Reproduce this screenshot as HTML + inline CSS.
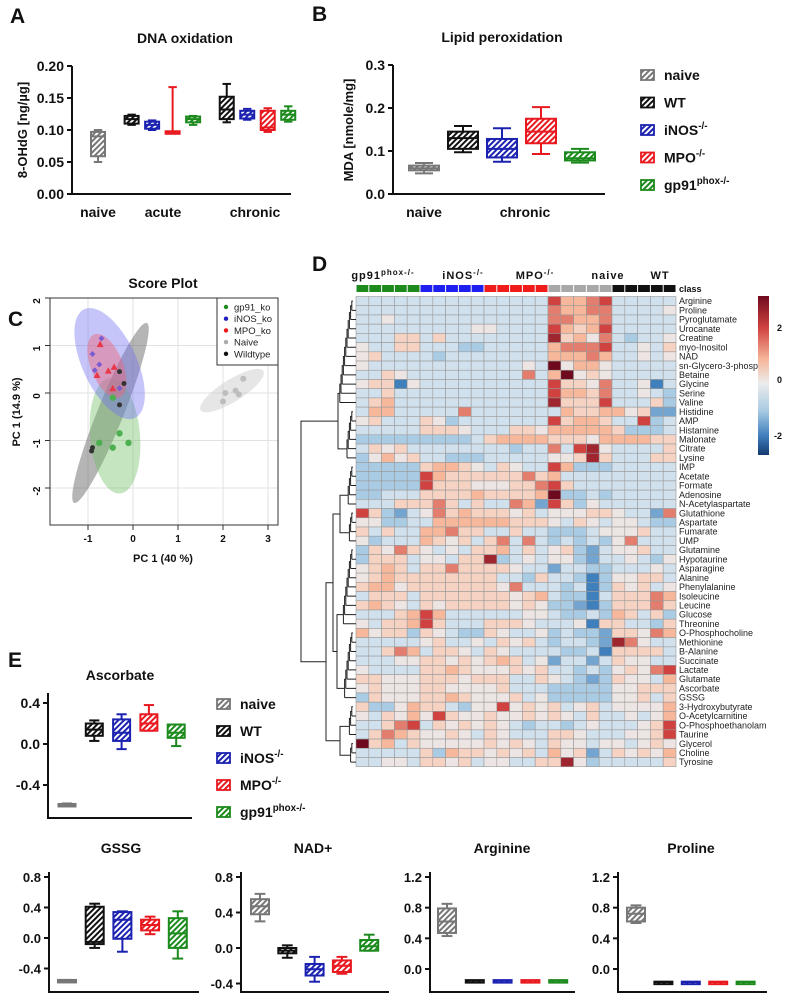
<!DOCTYPE html>
<html><head><meta charset="utf-8">
<style>
html,body{margin:0;padding:0;background:#fff;}
svg{display:block;font-family:"Liberation Sans",Arial,sans-serif;}
</style></head>
<body>
<svg id="fig" width="787" height="1000" viewBox="0 0 787 1000">
<defs>
<pattern id="h0" width="4" height="4" patternUnits="userSpaceOnUse" patternTransform="rotate(45)"><rect width="4" height="4" fill="#fff"/><rect width="2" height="4" fill="#777"/></pattern>
<pattern id="h1" width="4" height="4" patternUnits="userSpaceOnUse" patternTransform="rotate(45)"><rect width="4" height="4" fill="#fff"/><rect width="2" height="4" fill="#111"/></pattern>
<pattern id="h2" width="4" height="4" patternUnits="userSpaceOnUse" patternTransform="rotate(45)"><rect width="4" height="4" fill="#fff"/><rect width="2" height="4" fill="#1c22b0"/></pattern>
<pattern id="h3" width="4" height="4" patternUnits="userSpaceOnUse" patternTransform="rotate(45)"><rect width="4" height="4" fill="#fff"/><rect width="2" height="4" fill="#e8191f"/></pattern>
<pattern id="h4" width="4" height="4" patternUnits="userSpaceOnUse" patternTransform="rotate(45)"><rect width="4" height="4" fill="#fff"/><rect width="2" height="4" fill="#1c8a1c"/></pattern>
<linearGradient id="cbar" x1="0" y1="0" x2="0" y2="1">
<stop offset="0" stop-color="#6e0a1e"/><stop offset="0.2" stop-color="#d0423f"/><stop offset="0.4" stop-color="#f6b79b"/><stop offset="0.55" stop-color="#ececec"/><stop offset="0.72" stop-color="#a9cbe3"/><stop offset="0.88" stop-color="#3f7fbc"/><stop offset="1" stop-color="#133a70"/>
</linearGradient>
</defs>
<g id="root"></g>
</svg>
<script>
// ---------- DATA ----------
const colors = ['#777777','#111111','#1c22b0','#e8191f','#1c8a1c'];
// Panel A: DNA oxidation
const aColorIdx = [0,1,2,3,4,1,2,3,4];
const aGroupIdx = [0,1,1,1,1,2,2,2,2];
const aCategories = ['naive','acute','chronic'];
const aMin = [0.050,0.108,0.100,0.095,0.108,0.112,0.116,0.097,0.113];
const aQ1  = [0.059,0.110,0.102,0.095,0.112,0.117,0.118,0.100,0.116];
const aMed = [0.090,0.117,0.108,0.097,0.117,0.132,0.124,0.104,0.124];
const aQ3  = [0.097,0.122,0.113,0.098,0.121,0.152,0.130,0.130,0.130];
const aMax = [0.100,0.124,0.115,0.167,0.122,0.172,0.133,0.134,0.137];
const aTicks = [0,0.05,0.10,0.15,0.20];
// Panel B: Lipid peroxidation
const bColorIdx = [0,1,2,3,4];
const bMin = [0.048,0.097,0.075,0.093,0.073];
const bQ1  = [0.055,0.105,0.085,0.118,0.078];
const bMed = [0.060,0.130,0.105,0.145,0.083];
const bQ3  = [0.066,0.145,0.128,0.175,0.097];
const bMax = [0.072,0.158,0.153,0.202,0.105];
const bTicks = [0,0.1,0.2,0.3];
// Panel C: score plot
const cX_gp91 = [-0.45,-0.30,-0.75,-0.45,-0.10];
const cY_gp91 = [-0.10,-0.85,-1.05,-1.15,-1.05];
const cX_inos = [-0.70,-0.90,-0.75,-0.85,-0.30];
const cY_inos = [1.15,0.82,0.60,0.48,0.10];
const cX_mpo = [-0.73,-0.80,-0.55,-0.42,-0.45];
const cY_mpo = [1.03,0.38,0.47,0.55,0.10];
const cX_naive = [2.45,2.05,2.28,2.35,2.00];
const cY_naive = [0.30,0.00,0.05,-0.03,-0.18];
const cX_wt = [-0.30,-0.20,-0.30,-0.90,-0.92];
const cY_wt = [0.45,0.20,-0.25,-1.15,-1.22];
const cXTicks = [-1,0,1,2,3];
const cYTicks = [-2,-1,0,1,2];
// Panel D heatmap
const dGroups = ['gp91','iNOS','MPO','naive','WT'];
const dRows = ['Arginine','Proline','Pyroglutamate','Urocanate','Creatine','myo-Inositol','NAD','sn-Glycero-3-phosp','Betaine','Glycine','Serine','Valine','Histidine','AMP','Histamine','Malonate','Citrate','Lysine','IMP','Acetate','Formate','Adenosine','N-Acetylaspartate','Glutathione','Aspartate','Fumarate','UMP','Glutamine','Hypotaurine','Asparagine','Alanine','Phenylalanine','Isoleucine','Leucine','Glucose','Threonine','O-Phosphocholine','Methionine','B-Alanine','Succinate','Lactate','Glutamate','Ascorbate','GSSG','3-Hydroxybutyrate','O-Acetylcarnitine','O-Phosphoethanolam','Taurine','Glycerol','Choline','Tyrosine'];
// codes a..l -> -2.5 .. 3 in steps of 0.5
const dValues = [
"eeeee eeeee eeeee jhhij eeeee","eeeee eeeee eeeee ihhii eeeef","eefee eeeee eeeee iihhi eeeee","eeeee eeeef feeee jhghj eeeee",
"eeegg egeee eeeee kghfi edeef","feegg eeedd eeeee hiiij eefeg","fgeee edeee eeeee hhhih eefef","feeee eeeee eeefe lfhhf eeeee",
"eegfe eeeee eeeie hlfgf eeeee","fggbf eeeee eeeee jggfi eefbe","eegee eeeee eeeee jhhgi eefed","eghee eeeee eeeee kgggj eeegd",
"ehhee eeeie eeeee ehggh hfgcc","fgeee gfdee eeeee jghhg eejde","eeeee gggfe eeggf hhhhh gddde","ddddd dddde ghhhh gggfh hhhgg",
"egfge eeeee eedee iejkf eeeeg","dfhfg eeddd eeeee ffgkg eeegg","ddddd ghhgf egfee jhddd eeeee","ddddd jhggg gggig heeee eeeee",
"ddddd jgggf ffggi jgeee eeeee","ddeee ggggh ggggh ldded eeeee","eeegg gigeg eeihc jgdfe eeeee","jgdce fighg ggfge fffgg feeci",
"ffdde ehhhh hhggg fegfe ffedd","gegee hhigg eegee dddef ffgee","fdeee hgfge gieie deded fieee","dgfig fefeg ghege fgdce ffgee",
"dggge ffegg kdefe ffdce efedf","fghge ggigg ggfee ceedd eeefe","fghgg ggggg geedg eedbd ffgge","ghhfg ggggg gfiee edebd gfgef",
"eggge ggggg ggfgh eddbe gggih","ghgfe gfggg ggfgf ddcbd gggig","eeegh jheee eeeff edded hgegd","feggh jgeee gggfe eefbg geedg",
"hfggd gfedd gfeef deddc ggfih","eeeee fgeef egfge deedc kifee","eegih eggfe gfeee eddeb gggge","eeeff ggfgf ghgef ceece gffee",
"feeee gghgf ffgfg eeded fgfij","ggfff gggfg ggeeg fedcd gffeh","fgfff ggfff fgeee ddddd ffggg","dgfff gghgf ffgef ddddd ffgeg",
"gddfh ggedf fjfgf gefge ffffh","fegfh fjgff gffgf gfege efefh","eegij egfgf gfede edefe eefgj","egihg ffgfe gfeee ggfee effgj",
"lgheg fffff gfgfe gffef fefgf","eeeee gdhgg fgfge hfgce gfgfh","eeffe ggfge ffeeg gkfde eeeeg"];
// Panel E: Ascorbate
const eMin = [-0.600,0.03,-0.05,0.13,-0.02];
const eQ1  = [-0.595,0.08,0.03,0.13,0.06];
const eMed = [-0.590,0.14,0.11,0.20,0.11];
const eQ3  = [-0.585,0.20,0.24,0.29,0.19];
const eMax = [-0.580,0.23,0.29,0.38,0.19];
const eTicks = [-0.4,0.0,0.4];
// Bottom row
const gMin = [-0.57,-0.13,-0.18,0.05,-0.27];
const gQ1  = [-0.57,-0.08,-0.01,0.10,-0.13];
const gMed = [-0.56,-0.05,0.24,0.17,0.06];
const gQ3  = [-0.55,0.41,0.34,0.24,0.26];
const gMax = [-0.55,0.45,0.35,0.28,0.35];
const gTicks = [-0.4,0.0,0.4,0.8];
const nMin = [0.30,-0.11,-0.38,-0.29,-0.03];
const nQ1  = [0.38,-0.06,-0.31,-0.27,-0.03];
const nMed = [0.47,-0.03,-0.24,-0.20,0.02];
const nQ3  = [0.55,0.00,-0.18,-0.14,0.09];
const nMax = [0.61,0.03,-0.10,-0.10,0.15];
const nTicks = [-0.4,0.0,0.4,0.8];
const rMin = [0.43,-0.15,-0.15,-0.15,-0.15];
const rQ1  = [0.47,-0.155,-0.155,-0.155,-0.155];
const rMed = [0.62,-0.15,-0.15,-0.15,-0.15];
const rQ3  = [0.79,-0.145,-0.145,-0.145,-0.145];
const rMax = [0.85,-0.15,-0.15,-0.15,-0.15];
const rTicks = [0.0,0.4,0.8,1.2];
const pMin = [0.60,-0.17,-0.17,-0.17,-0.17];
const pQ1  = [0.62,-0.175,-0.175,-0.175,-0.175];
const pMed = [0.72,-0.17,-0.17,-0.17,-0.17];
const pQ3  = [0.80,-0.165,-0.165,-0.165,-0.165];
const pMax = [0.83,-0.17,-0.17,-0.17,-0.17];
const pTicks = [0.0,0.4,0.8,1.2];

// ---------- HELPERS ----------
const NS='http://www.w3.org/2000/svg';
const root=document.getElementById('root');
function mk(tag,attrs,parent,text){const e=document.createElementNS(NS,tag);for(const k in attrs)e.setAttribute(k,attrs[k]);if(text!==undefined)e.textContent=text;(parent||root).appendChild(e);return e;}
function lin(d0,d1,r0,r1){return v=>r0+(v-d0)*(r1-r0)/(d1-d0);}
function grp(name){const g=mk('g',{});


return g;}
function txt(g,x,y,s,size,opts){opts=opts||{};const t=mk('text',{x:x,y:y,'font-size':size,'text-anchor':opts.anchor||'middle','font-weight':opts.bold===false?'normal':'bold',fill:opts.fill||'#111'},g,s);if(opts.rot)t.setAttribute('transform','rotate('+opts.rot+' '+x+' '+y+')');return t;}
function box(g,cx,w,ys,mn,q1,md,q3,mx,ci,lw){
  const c=colors[ci];lw=lw||2;
  const bg=mk('g',{},g);
  
  
  mk('line',{x1:cx,x2:cx,y1:ys(mx),y2:ys(q3),stroke:c,'stroke-width':lw},bg);
  mk('line',{x1:cx,x2:cx,y1:ys(q1),y2:ys(mn),stroke:c,'stroke-width':lw},bg);
  mk('line',{x1:cx-w*0.3,x2:cx+w*0.3,y1:ys(mx),y2:ys(mx),stroke:c,'stroke-width':lw},bg);
  mk('line',{x1:cx-w*0.3,x2:cx+w*0.3,y1:ys(mn),y2:ys(mn),stroke:c,'stroke-width':lw},bg);
  const h=Math.max(ys(q1)-ys(q3),2.5);
  mk('rect',{x:cx-w/2,y:ys(q3),width:w,height:h,fill:'url(#h'+ci+')',stroke:c,'stroke-width':lw},bg);
  mk('line',{x1:cx-w/2,x2:cx+w/2,y1:ys(md),y2:ys(md),stroke:c,'stroke-width':lw},bg);
}
function yaxis(g,x,ys,ticks,y0,y1,fmt,size){
  mk('line',{x1:x,x2:x,y1:y0,y2:y1,stroke:'#111','stroke-width':2},g);
  ticks.forEach(t=>{const y=ys(t);mk('line',{x1:x-5,x2:x,y1:y,y2:y,stroke:'#111','stroke-width':2},g);txt(g,x-8,y+5,fmt(t),size||14,{anchor:'end'});});
}
function legend(g,x,y0,dy,size){
  const labels=[['naive',''],['WT',''],['iNOS','-/-'],['MPO','-/-'],['gp91','phox-/-']];
  labels.forEach((l,i)=>{const y=y0+i*dy;
    const r=mk('rect',{x:x,y:y-6,width:13,height:10,fill:'url(#h'+i+')',stroke:colors[i],'stroke-width':1.8},g);
    
    
    const t=mk('text',{x:x+23,y:y+4,'font-size':size,'font-weight':'bold',fill:'#111'},g,l[0]);
    
    
    if(l[1])mk('tspan',{'font-size':size*0.7,dy:-6},t,l[1]);
  });
}
const f2=v=>v.toFixed(2), f1=v=>v.toFixed(1);

// ---------- PANEL LETTERS ----------
[['A',10,23],['B',312,21],['C',8,326],['D',312,271],['E',8,667]].forEach(p=>{const t=txt(root,p[1],p[2],p[0],21,{anchor:'start'});

});

// ---------- A ----------
(function(){
 const g=grp('panel-a-dna-oxidation');
 const ys=lin(0,0.2,194,66);
 txt(g,185,43,'DNA oxidation',14);
 txt(g,27,130,'8-OHdG [ng/µg]',13,{rot:-90});
 yaxis(g,72,ys,aTicks,66,194,f2,14);
 mk('line',{x1:71,x2:291,y1:194,y2:194,stroke:'#111','stroke-width':2},g);
 const xs=lin(0,1,98,118.5);
 aMin.forEach((v,i)=>{const slot=i+aGroupIdx[i]*0.64;box(g,xs(slot),14,ys,aMin[i],aQ1[i],aMed[i],aQ3[i],aMax[i],aColorIdx[i]);});
 txt(g,98,217,aCategories[0],14);txt(g,163,217,aCategories[1],14);txt(g,255,217,aCategories[2],14);
})();
// ---------- B ----------
(function(){
 const g=grp('panel-b-lipid-peroxidation');
 const ys=lin(0,0.3,194,65);
 txt(g,502,42,'Lipid peroxidation',14);
 txt(g,353,130,'MDA [nmole/mg]',13,{rot:-90});
 yaxis(g,393,ys,bTicks,65,194,f1,14);
 mk('line',{x1:392,x2:605,y1:194,y2:194,stroke:'#111','stroke-width':2},g);
 const xs=lin(0,1,424,463);
 bMin.forEach((v,i)=>box(g,xs(i),30,ys,bMin[i],bQ1[i],bMed[i],bQ3[i],bMax[i],bColorIdx[i]));
 txt(g,424,217,'naive',14);txt(g,525,217,'chronic',14);
 legend(g,641,76,27.5,14);
})();
// ---------- C ----------
(function(){
 const g=grp('panel-c-score-plot');
 const xs=lin(0,1,133,178), ys=lin(0,1,393,345.5);
 txt(g,163,288,'Score Plot',14);
 mk('rect',{x:50,y:298,width:228,height:227,fill:'#fff',stroke:'#333','stroke-width':1},g);
 cXTicks.forEach(t=>{mk('line',{x1:xs(t),x2:xs(t),y1:298,y2:525,stroke:'#e2e2e2'},g);mk('line',{x1:xs(t),x2:xs(t),y1:525,y2:530,stroke:'#333'},g);txt(g,xs(t),542,String(t),10);});
 cYTicks.forEach(t=>{mk('line',{x1:50,x2:278,y1:ys(t),y2:ys(t),stroke:'#e2e2e2'},g);mk('line',{x1:45,x2:50,y1:ys(t),y2:ys(t),stroke:'#333'},g);txt(g,40,ys(t)+3,String(t),10,{rot:-90});});
 mk('rect',{x:50,y:298,width:228,height:227,fill:'none',stroke:'#333','stroke-width':1},g);
 txt(g,163,562,'PC 1 (40 %)',11);
 txt(g,20,412,'PC 1 (14.9 %)',11,{rot:-90});
 const ell=(cx,cy,rx,ry,ang,fill,name)=>{const e=mk('ellipse',{cx:xs(cx),cy:ys(cy),rx:rx,ry:ry,fill:fill,transform:'rotate('+ang+' '+xs(cx)+' '+ys(cy)+')'},g);
  
  };
 ell(-0.5,-0.42,13,97,22,'rgba(90,90,90,0.45)','ellipse-wildtype');
 ell(-0.4,-0.9,25,58,-5,'rgba(110,190,100,0.4)','ellipse-gp91');
 ell(-0.52,0.62,27,60,-25,'rgba(110,110,240,0.4)','ellipse-inos');
 ell(-0.58,0.57,16,34,-22,'rgba(240,100,120,0.45)','ellipse-mpo');
 ell(2.2,0.05,37,11,-32,'rgba(200,200,200,0.45)','ellipse-naive');
 const pts=(X,Y,col,shape,name)=>X.forEach((x,i)=>{let e;
  if(shape==='tri'){const px=xs(x),py=ys(Y[i]);e=mk('polygon',{points:(px-3.5)+','+(py+3)+' '+(px+3.5)+','+(py+3)+' '+px+','+(py-3.5),fill:col},g);}
  else if(shape==='dia'){const px=xs(x),py=ys(Y[i]);e=mk('polygon',{points:px+','+(py-3)+' '+(px+3)+','+py+' '+px+','+(py+3)+' '+(px-3)+','+py,fill:col},g);}
  else e=mk('circle',{cx:xs(x),cy:ys(Y[i]),r:shape,fill:col},g);
  
  });
 pts(cX_gp91,cY_gp91,'#4caf50',3.2,'gp91');
 pts(cX_inos,cY_inos,'#7b5cd0','dia','inos');
 pts(cX_mpo,cY_mpo,'#e8394a','tri','mpo');
 pts(cX_naive,cY_naive,'#bdbdbd',3,'naive');
 pts(cX_wt,cY_wt,'#333',2.5,'wildtype');
 const lg=mk('g',{},g);
 
 
 mk('rect',{x:217,y:298,width:61,height:67,fill:'#fff',stroke:'#333','stroke-width':1},lg);
 const items=[['gp91_ko','#1c8a1c'],['iNOS_ko','#2020c0'],['MPO_ko','#e8191f'],['Naive','#aaa'],['Wildtype','#111']];
 items.forEach((it,i)=>{const y=307+i*11.7;mk('circle',{cx:226,cy:y,r:2.2,fill:it[1]},lg);txt(lg,234,y+3.5,it[0],9.5,{anchor:'start',bold:false,fill:'#222'});});
})();
// ---------- D ----------
(function(){
 const g=grp('panel-d-heatmap');
 const x0=356,cw=12.8,y0=296.5,rh=9.22;
 const cx=c=>x0+c*cw, ry=r=>y0+r*rh;
 const grpCols=['#1c8a1c','#1f1ff0','#f01b1b','#a8a8a8','#111'];
 const stops=[[-3,[19,58,112]],[-2,[63,127,188]],[-1,[169,203,227]],[-0.25,[228,234,240]],[0.25,[246,224,214]],[1,[246,183,155]],[2,[208,66,63]],[3,[110,10,30]]];
 const col=v=>{for(let i=0;i<stops.length-1;i++){const a=stops[i],b=stops[i+1];if(v<=b[0]){const t=Math.max(0,(v-a[0])/(b[0]-a[0]));return 'rgb('+a[1].map((c,k)=>Math.round(c+(b[1][k]-c)*t)).join(',')+')';}}return 'rgb(110,10,30)';};
 const labX=[383,463,535,608,660];
 dGroups.forEach((gname,gi)=>{
   const t=mk('text',{x:labX[gi],y:279,'font-size':11,'font-weight':'bold','text-anchor':'middle',fill:'#111','letter-spacing':'1'},g,gname);
   if(gname==='gp91')mk('tspan',{dy:-4,'font-size':8},t,'phox-/-');
   if(gname==='iNOS'||gname==='MPO')mk('tspan',{dy:-4,'font-size':8},t,'-/-');
   for(let k=0;k<5;k++){const c=gi*5+k;const r=mk('rect',{x:cx(c)+0.5,y:285,width:cw-1,height:7,fill:grpCols[gi]},g);
     
     }
 });
 txt(g,679,292,'class',9,{anchor:'start'});
 dValues.forEach((s,r)=>{const codes=s.replace(/ /g,'');
   for(let c=0;c<25;c++){const v=(codes.charCodeAt(c)-102)*0.5;
     const cell=mk('rect',{x:cx(c),y:ry(r),width:cw,height:rh,fill:col(v),stroke:'#9a9a9a','stroke-width':0.6},g);
     
     }
   const t=txt(g,679,ry(r)+rh-1.5,dRows[r],9,{anchor:'start',bold:false,fill:'#222'});
   
   
 });
 const dg=mk('g',{stroke:'#222','stroke-width':1,fill:'none'},g);
 
 
 const clusters=[[0,11],[12,17],[18,22],[23,26],[27,35],[36,43],[44,47],[48,50]];
 const mids=clusters.map(cl=>{let y=ry(cl[0])+rh/2,x=353;for(let r=cl[0]+1;r<=cl[1];r++){const y2=ry(r)+rh/2;const xn=x-1.2;mk('path',{d:'M'+356+' '+y2+'H'+xn+'M'+x+' '+y+'H'+xn+'V'+y2},dg);y=(y+y2)/2;x=xn;}return [x,y];});
 const join=(a,b,x)=>{mk('path',{d:'M'+a[0]+' '+a[1]+'H'+x+'V'+b[1]+'H'+b[0]},dg);return [x,(a[1]+b[1])/2];};
 const top=join(mids[0],mids[1],338);
 const b1=join(mids[2],mids[3],340);
 const b2=join(mids[4],mids[5],337);
 const b3=join(mids[6],mids[7],340);
 const b4=join(b1,b2,333);
 const b5=join(b4,b3,326);
 join(top,b5,301);
 const cb=mk('rect',{x:758,y:296,width:11,height:159,fill:'url(#cbar)'},g);
 
 
 txt(g,777,331,'2',9,{anchor:'start'});txt(g,777,383,'0',9,{anchor:'start'});txt(g,774,439,'-2',9,{anchor:'start'});
})();
// ---------- E ----------
(function(){
 const g=grp('panel-e-ascorbate');
 const ys=lin(0,0.4,744,703);
 txt(g,120,680,'Ascorbate',14);
 yaxis(g,48,ys,eTicks,693,818,f1,14);
 mk('line',{x1:47,x2:192,y1:818,y2:818,stroke:'#111','stroke-width':2},g);
 const xs=lin(0,1,67,94.3);
 eMin.forEach((v,i)=>box(g,xs(i),17,ys,eMin[i],eQ1[i],eMed[i],eQ3[i],eMax[i],i));
 legend(g,217,705,27,14);
})();
// ---------- Bottom ----------
function small(name,title,titleX,axX,axEnd,ys,ticks,yTop,xFirst,step,bw,mn,q1,md,q3,mx){
 const g=grp(name);
 txt(g,titleX,853,title,14);
 yaxis(g,axX,ys,ticks,yTop,992,f1,13);
 mk('line',{x1:axX-1,x2:axEnd,y1:992,y2:992,stroke:'#111','stroke-width':2},g);
 const xs=lin(0,1,xFirst,xFirst+step);
 mn.forEach((v,i)=>box(g,xs(i),bw,ys,mn[i],q1[i],md[i],q3[i],mx[i],i));
}
small('panel-gssg','GSSG',121,49,199,lin(0,0.8,938,877),gTicks,872,67,27.7,18,gMin,gQ1,gMed,gQ3,gMax);
small('panel-nad','NAD+',313,241,389,lin(0,0.8,948,877),nTicks,872,260,27.3,18,nMin,nQ1,nMed,nQ3,nMax);
small('panel-arginine','Arginine',502,430,575,lin(0,1.2,969,877),rTicks,872,447,27.8,18,rMin,rQ1,rMed,rQ3,rMax);
small('panel-proline','Proline',691,618,767,lin(0,1.2,969,877),pTicks,872,636,27.4,18,pMin,pQ1,pMed,pQ3,pMax);
</script>
</body></html>
